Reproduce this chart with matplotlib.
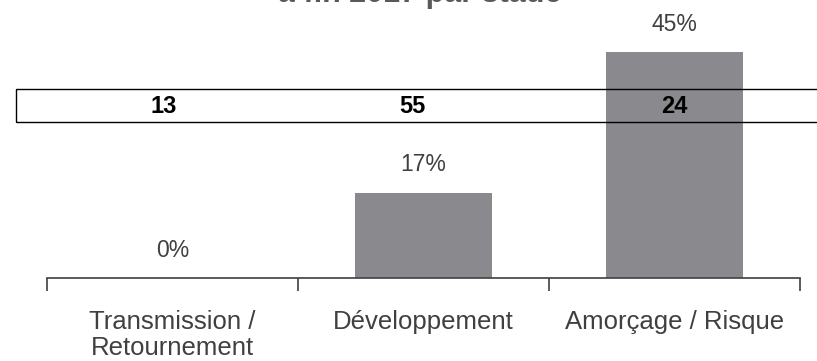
import numpy as np
import matplotlib.pyplot as plt
from matplotlib.patches import Rectangle
from matplotlib.transforms import blended_transform_factory, offset_copy

plt.rcParams['font.family'] = ['Liberation Sans', 'DejaVu Sans']

categories = ["Transmission /\nRetournement", "Développement", "Amorçage / Risque"]
parts = [0, 17, 45]          # pourcentage par stade
nombres = [13, 55, 24]       # nombre d'entreprises
titre = "à fin 2017 par stade"

gris_barre = "#8a8a8e"
gris_texte = "#404040"

fig = plt.figure(figsize=(8.17, 3.61), dpi=100)
ax = fig.add_axes([47 / 817, 83 / 361, 753 / 817, 278 / 361])

x = np.arange(len(categories))
ax.bar(x, parts, width=0.545, color=gris_barre, zorder=2)
for xi, v in zip(x, parts):
    ax.annotate(f"{v}%", (xi, v), xytext=(0, 20), textcoords="offset points",
                ha="center", va="center", fontsize=16.5, color=gris_texte)

ax.set_xlim(-0.5, 2.5)
ax.set_ylim(0, 55.4)
ax.set_yticks([])
for s in ["top", "left", "right"]:
    ax.spines[s].set_visible(False)
ax.spines["bottom"].set_color(gris_texte)
ax.spines["bottom"].set_linewidth(1.2)

ax.set_xticks(x)
ax.set_xticklabels(categories, fontsize=18.5, color=gris_texte, linespacing=1.12)
ax.tick_params(axis="x", which="major", length=0, pad=23)
ax.set_xticks([-0.5, 0.5, 1.5, 2.5], minor=True)
ax.tick_params(axis="x", which="minor", length=9, width=1.2, color=gris_texte)

# titre coupé en haut
fig.text(0.514, 0.995, titre, ha="center", va="baseline", fontsize=22,
         fontweight="bold", color="#595959")

# encadré avec les nombres
fig.patches.append(Rectangle((16 / 817, 239 / 361), 1.0, 33 / 361, transform=fig.transFigure,
                             fill=False, edgecolor="black", linewidth=1, zorder=3))
tr = blended_transform_factory(ax.transData, fig.transFigure)
decalage = [-6, -8, 0]  # petit decalage horizontal (points)
for xi, n, d in zip(x, nombres, decalage):
    t = offset_copy(tr, fig=fig, x=d, y=0, units="points")
    ax.text(xi, 254 / 361, str(n), transform=t, ha="center", va="center",
            fontsize=17, fontweight="bold", color="black", zorder=4)

fig.savefig("out.png", dpi=100)
